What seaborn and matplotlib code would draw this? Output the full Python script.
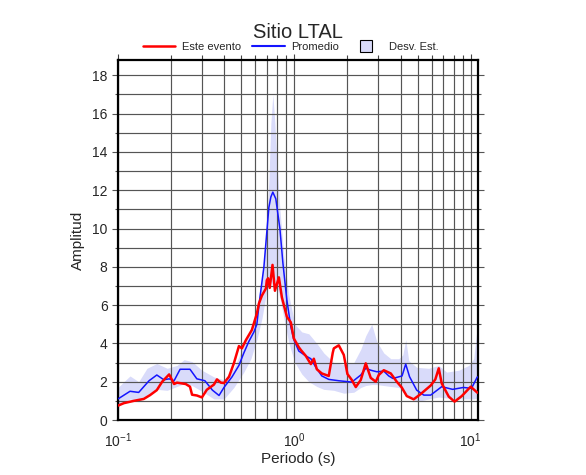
import numpy as np
import pandas as pd
import matplotlib
matplotlib.use("Agg")
import matplotlib.pyplot as plt
import seaborn as sns
from matplotlib.lines import Line2D
from matplotlib.ticker import MultipleLocator, LogLocator

# Este evento (red)
event_t = [0.1, 0.108, 0.123, 0.140, 0.152, 0.166, 0.178, 0.195, 0.208, 0.216,
           0.242, 0.256, 0.263, 0.280, 0.299, 0.319, 0.350, 0.364, 0.383, 0.399,
           0.426, 0.454, 0.485, 0.504, 0.531, 0.574, 0.613, 0.630, 0.655, 0.690,
           0.698, 0.710, 0.725, 0.752, 0.776, 0.817, 0.850, 0.907, 0.955, 0.993,
           1.06, 1.09, 1.161, 1.24, 1.29, 1.341, 1.432, 1.567, 1.65, 1.674,
           1.786, 1.907, 2.0, 2.118, 2.23, 2.38, 2.54, 2.711, 2.897, 3.01,
           3.215, 3.523, 3.809, 4.064, 4.34, 4.75, 5.21, 5.93, 6.3, 6.59,
           6.85, 7.51, 8.1, 8.9, 10.0, 10.9]
event_amp = [0.75, 0.88, 1.0, 1.1, 1.3, 1.56, 2.0, 2.38, 1.88, 1.95,
             1.88, 1.74, 1.32, 1.28, 1.18, 1.58, 1.85, 2.12, 1.95, 1.93,
             2.26, 2.96, 3.86, 3.74, 4.17, 4.70, 5.56, 6.09, 6.5, 6.87,
             7.3, 7.4, 6.9, 8.1, 6.75, 7.45, 6.4, 5.39, 5.1, 4.26,
             3.8, 3.65, 3.35, 2.92, 3.2, 2.65, 2.43, 2.3, 3.5, 3.74,
             3.9, 3.4, 2.4, 2.09, 1.72, 2.09, 2.96, 2.2, 2.0, 2.35,
             2.6, 2.43, 2.0, 1.7, 1.25, 1.08, 1.36, 1.8, 2.12, 2.70,
             1.91, 1.22, 0.96, 1.25, 1.74, 1.43]

# Promedio (blue)
mean_t = [0.1, 0.117, 0.131, 0.150, 0.166, 0.182, 0.195, 0.208, 0.225, 0.256,
          0.280, 0.311, 0.343, 0.374, 0.399, 0.443, 0.485, 0.517, 0.552, 0.590,
          0.613, 0.630, 0.672, 0.717, 0.736, 0.755, 0.785, 0.828, 0.861, 0.907,
          0.955, 0.993, 1.06, 1.16, 1.24, 1.324, 1.432, 1.567, 1.786, 2.118,
          2.382, 2.541, 2.711, 2.933, 3.215, 3.431, 3.62, 4.08, 4.28, 4.50,
          4.94, 5.418, 5.93, 6.85, 7.9, 9.1, 10.1, 10.9]
mean_amp = [1.1, 1.5, 1.44, 2.05, 2.35, 2.1, 2.15, 2.05, 2.65, 2.65,
            2.15, 2.05, 1.56, 1.28, 1.7, 2.25, 2.85, 3.5, 4.1, 4.6,
            5.0, 6.0, 8.0, 11.1, 11.65, 11.9, 11.55, 10.0, 8.2, 6.26,
            4.87, 4.2, 3.6, 3.35, 3.2, 2.75, 2.3, 2.12, 2.05, 1.98,
            2.35, 2.7, 2.6, 2.52, 2.55, 2.3, 2.17, 2.3, 2.92, 2.26,
            1.56, 1.3, 1.3, 1.74, 1.6, 1.7, 1.65, 2.25]

# Desv. Est. band
band_t = [0.1, 0.108, 0.117, 0.131, 0.146, 0.166, 0.190, 0.216, 0.237, 0.263,
          0.299, 0.350, 0.399, 0.454, 0.517, 0.567, 0.613, 0.655, 0.690, 0.717,
          0.736, 0.755, 0.776, 0.796, 0.828, 0.873, 0.931, 1.007, 1.102, 1.208,
          1.341, 1.469, 1.674, 1.907, 2.174, 2.382, 2.541, 2.747, 2.933, 3.215,
          3.523, 3.908, 4.121, 4.283, 4.454, 4.943, 5.785, 6.587, 7.3, 8.559,
          9.746, 10.40, 10.9]
band_hi = [1.7, 2.0, 2.3, 2.0, 2.7, 2.95, 2.7, 2.85, 3.15, 3.05,
           2.6, 2.25, 2.1, 2.7, 3.9, 4.8, 5.8, 7.5, 9.5, 12.5,
           15.5, 17.0, 15.5, 13.5, 11.0, 8.5, 6.5, 5.0, 4.6, 4.5,
           4.0, 3.5, 3.0, 2.9, 3.0, 3.7, 4.4, 5.0, 4.1, 3.5,
           3.2, 3.2, 3.4, 4.2, 3.1, 2.75, 2.7, 2.85, 2.5, 2.6,
           2.85, 3.2, 4.9]
band_lo = [0.75, 0.9, 1.1, 0.95, 1.3, 1.6, 1.55, 1.75, 1.9, 1.8,
           1.5, 1.1, 1.1, 1.7, 2.5, 3.2, 4.2, 5.3, 6.5, 7.4,
           7.2, 7.0, 7.0, 7.0, 6.4, 5.3, 4.0, 3.0, 2.4, 2.0,
           1.75, 1.6, 1.55, 1.4, 1.45, 1.7, 1.8, 1.85, 1.85, 1.8,
           1.75, 1.7, 1.5, 1.4, 1.25, 0.95, 1.1, 1.2, 1.15, 1.1,
           1.1, 1.1, 1.15]

red = "#ff0000"
blue = "#1414ff"
band_color = "#d9dbfa"

sns.set_style("ticks")
plt.rcParams["font.family"] = ["Liberation Sans", "DejaVu Sans"]

fig = plt.figure(figsize=(5.86, 4.75), dpi=100)
ax = fig.add_axes([118 / 586, 55 / 475, 360 / 586, 360 / 475])

# band first, grid over it, lines on top
ax.fill_between(band_t, band_lo, band_hi, color=band_color, lw=0, zorder=0.2)

df_event = pd.DataFrame({"Periodo": event_t, "Amplitud": event_amp})
df_mean = pd.DataFrame({"Periodo": mean_t, "Amplitud": mean_amp})
sns.lineplot(data=df_mean, x="Periodo", y="Amplitud", color=blue, lw=1.1,
             estimator=None, sort=False, ax=ax, zorder=3)
sns.lineplot(data=df_event, x="Periodo", y="Amplitud", color=red, lw=1.8,
             estimator=None, sort=False, ax=ax, zorder=4)

ax.set_xscale("log")
ax.set_xlim(0.1, 11)
ax.set_ylim(0, 18.8)
ax.yaxis.set_major_locator(MultipleLocator(2))
ax.yaxis.set_minor_locator(MultipleLocator(1))
ax.xaxis.set_major_locator(LogLocator(base=10))
ax.xaxis.set_minor_locator(LogLocator(base=10, subs=np.arange(2, 10)))

ax.set_axisbelow(True)
ax.grid(which="both", color="#555555", lw=0.85)

for s in ax.spines.values():
    s.set_linewidth(1.6)
    s.set_color("black")

ax.tick_params(axis="x", which="both", bottom=False, top=True, labelbottom=True,
               direction="out", pad=4, labelsize=10, color="#444444")
ax.tick_params(axis="x", which="major", length=4.5, width=0.8)
ax.tick_params(axis="x", which="minor", length=3.5, width=0.8)
ax.tick_params(axis="y", which="both", left=True, right=True, direction="out",
               labelsize=10, color="#555555", width=0.8)
ax.tick_params(axis="y", which="major", length=4)
ax.tick_params(axis="y", which="minor", length=2.5)

ax.set_xlabel("Periodo (s)", fontsize=11, labelpad=1)
ax.set_ylabel("Amplitud", fontsize=11, labelpad=5)
fig.text(298 / 586, 1 - 33 / 475, "Sitio LTAL", ha="center", va="center", fontsize=14.5)

handles = [
    Line2D([], [], color=red, lw=1.8),
    Line2D([], [], color=blue, lw=1.5),
    Line2D([], [], ls="none", marker="s", markersize=9, markerfacecolor=band_color,
           markeredgecolor="black", markeredgewidth=0.8),
]
fig.legend(handles, ["Este evento", "Promedio", "Desv. Est."], loc="center",
           bbox_to_anchor=(291 / 586, 1 - 47 / 475), ncol=3, frameon=False,
           fontsize=8, handlelength=2.9, handletextpad=0.6, columnspacing=1.0,
           borderpad=0, borderaxespad=0)

fig.savefig("out.png", dpi=100)
